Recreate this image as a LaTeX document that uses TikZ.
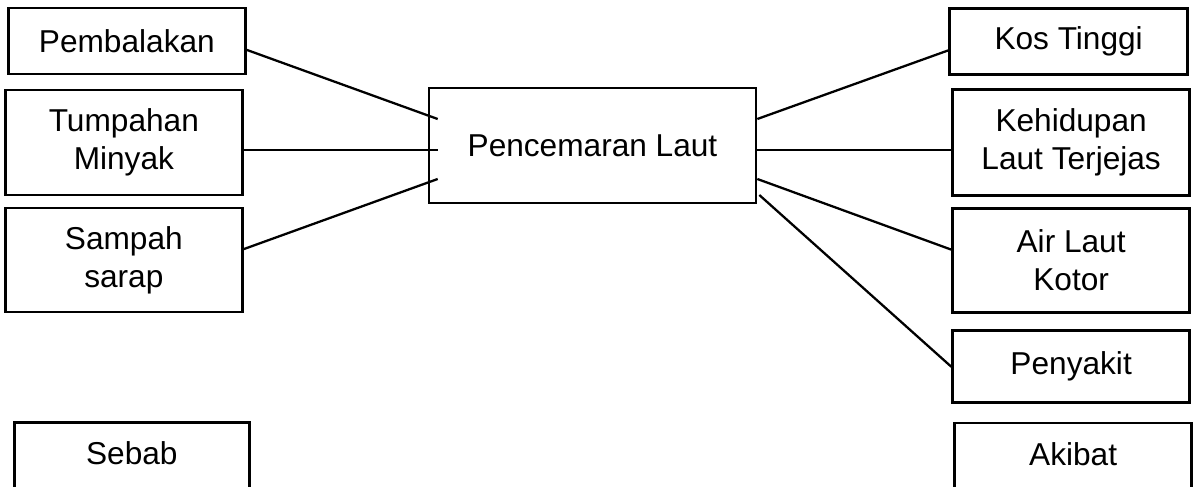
\documentclass[tikz,border=0pt]{standalone}
\usepackage{fontspec}
\setmainfont{Liberation Sans}
\usetikzlibrary{positioning}

\begin{document}
\begin{tikzpicture}[
    box/.style={rectangle, draw, line width=1.5pt, align=center, minimum width=4.74cm, font=\fontsize{18}{21.6}\selectfont},
    label/.style={box, minimum height=1.44cm, text depth=0.2cm},
    link/.style={line width=1.3pt}
]
\useasboundingbox (0,0) rectangle (23.9,9.72);

% Main node
\node[box, minimum width=6.54cm, minimum height=2.3cm] (centre) at (11.85,6.81) {Pencemaran Laut};

% Sebab (left)
\node[box, minimum height=2.1cm, left=3.68cm of centre, yshift=0.06cm] (tumpahan) {Tumpahan\\Minyak};
\node[box, minimum height=1.32cm, above=0.27cm of tumpahan, xshift=0.06cm] (pembalakan) {Pembalakan};
\node[box, minimum height=2.08cm, below=0.21cm of tumpahan] (sampah) {Sampah\\sarap};
\node[label, minimum width=4.7cm, below=2.15cm of sampah, xshift=0.16cm] (sebab) {Sebab};

% Akibat (right)
\node[box, minimum height=2.12cm, right=3.88cm of centre, yshift=0.06cm] (kehidupan) {Kehidupan\\Laut Terjejas};
\node[box, minimum width=4.76cm, minimum height=1.32cm, above=0.25cm of kehidupan, xshift=-0.05cm] (kos) {Kos Tinggi};
\node[box, minimum height=2.08cm, below=0.21cm of kehidupan] (airlaut) {Air Laut\\Kotor};
\node[box, minimum height=1.44cm, below=0.31cm of airlaut] (penyakit) {Penyakit};
\node[label, below=0.35cm of penyakit, xshift=0.04cm] (akibat) {Akibat};

% Connectors (sebab)
\draw[link] ([yshift=-0.18cm]pembalakan.east) -- ([xshift=0.2cm,yshift=0.53cm]centre.west);
\draw[link] ([yshift=-0.15cm]tumpahan.east) -- ([xshift=0.2cm,yshift=-0.09cm]centre.west);
\draw[link] ([yshift=0.22cm]sampah.east) -- ([xshift=0.2cm,yshift=-0.67cm]centre.west);

% Connectors (akibat)
\draw[link] ([yshift=0.53cm]centre.east) -- ([yshift=-0.18cm]kos.west);
\draw[link] ([yshift=-0.09cm]centre.east) -- ([yshift=-0.15cm]kehidupan.west);
\draw[link] ([yshift=-0.67cm]centre.east) -- ([yshift=0.22cm]airlaut.west);
\draw[link] ([xshift=0.04cm,yshift=-0.99cm]centre.east) -- (penyakit.west);

\end{tikzpicture}
\end{document}
